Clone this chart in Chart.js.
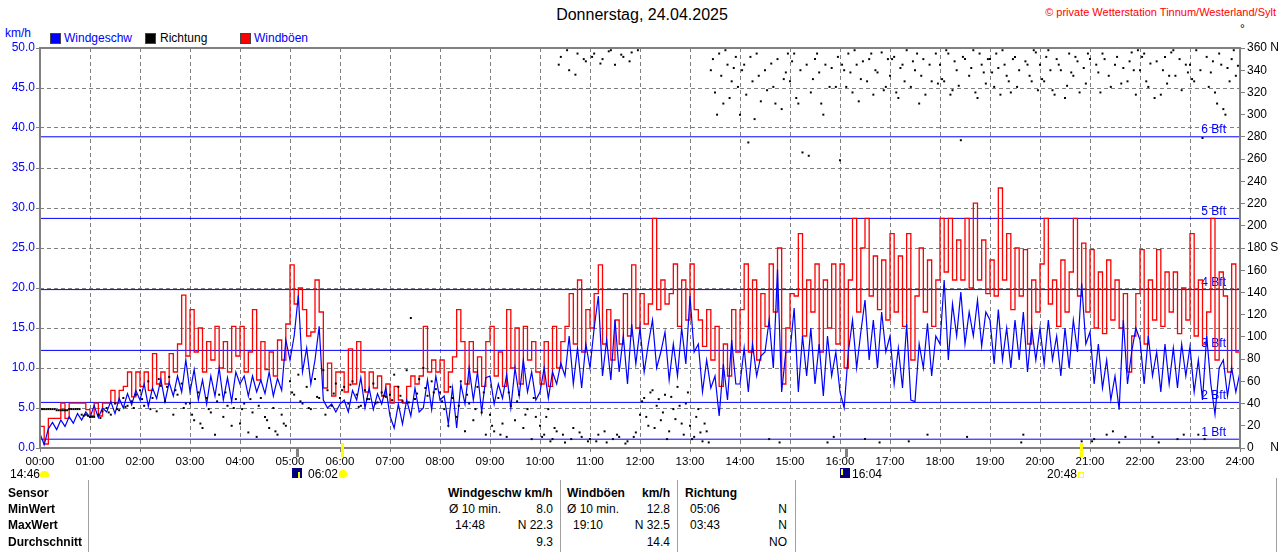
<!DOCTYPE html>
<html lang="de">
<head>
<meta charset="utf-8">
<title>Wind 24.04.2025</title>
<script src="https://cdn.jsdelivr.net/npm/chart.js@4.4.1/dist/chart.umd.min.js"></script>
<style>
  body { margin: 0; background: #fff; font-family: "Liberation Sans", Arial, sans-serif; }
  #page { position: relative; width: 1280px; height: 552px; overflow: hidden; }
  .abs { position: absolute; white-space: nowrap; font-size: 12px; line-height: 14px; }
  .blue { color: #0000ff; }
  .b { font-weight: bold; }
  .sq { position: absolute; width: 9px; height: 9px; border: 1px solid #444; }
  .vl { position: absolute; width: 1px; background: #a0a0a0; }
  #chartBox { position: absolute; left: 0; top: 0; }
</style>
</head>
<body>
<div id="page">
  <div class="abs" style="left:542px;top:6px;width:200px;text-align:center;font-size:16px;line-height:18px">Donnerstag, 24.04.2025</div>
  <div class="abs" style="right:4px;top:5px;color:#ff0000;font-size:11px">© private Wetterstation Tinnum/Westerland/Sylt</div>
  <div class="abs" style="left:1240px;top:22px">°</div>
  <div class="abs blue" style="left:5px;top:26px">km/h</div>

  <div class="sq" style="left:50px;top:33px;background:#0000ff"></div>
  <div class="abs blue" style="left:64px;top:31px">Windgeschw</div>
  <div class="sq" style="left:145px;top:33px;background:#000"></div>
  <div class="abs" style="left:160px;top:31px">Richtung</div>
  <div class="sq" style="left:240px;top:33px;background:#ff0000"></div>
  <div class="abs blue" style="left:254px;top:31px">Windböen</div>

  <div id="chartBox"><canvas id="windChart" width="1280" height="480"></canvas></div>

  <!-- Sonne / Mond unter der Zeitachse -->
  <div class="abs" style="left:10px;top:467px">14:46</div>
  <div class="abs" style="left:40px;top:471px;width:9px;height:6px;background:#ffff00;border-radius:4px 4px 1px 1px"></div>
  <div class="abs" style="left:296px;top:447px;width:3px;height:10px;background:#808080"></div>
  <div class="abs" style="left:292px;top:468px;width:10px;height:10px;background:#000080"></div>
  <div class="abs" style="left:298px;top:472px;width:2px;height:6px;background:#ffff00"></div>
  <div class="abs" style="left:308px;top:467px">06:02</div>
  <div class="abs" style="left:341px;top:443px;width:3px;height:14px;background:#ffff00"></div>
  <div class="abs" style="left:339px;top:470px;width:8px;height:8px;background:#ffff00;border-radius:50%;box-shadow:0 0 2px #ffff80"></div>
  <div class="abs" style="left:845px;top:447px;width:3px;height:10px;background:#808080"></div>
  <div class="abs" style="left:840px;top:468px;width:10px;height:10px;background:#000080"></div>
  <div class="abs" style="left:841px;top:469px;width:2px;height:6px;background:#ffff00"></div>
  <div class="abs" style="left:852px;top:467px">16:04</div>
  <div class="abs" style="left:1080px;top:443px;width:3px;height:14px;background:#ffff00"></div>
  <div class="abs" style="left:1047px;top:467px">20:48</div>
  <div class="abs" style="left:1078px;top:472px;width:4px;height:4px;border:1px solid #ffff00"></div>

  <!-- Tabelle -->
  <div class="vl" style="left:88px;top:480px;height:72px"></div>
  <div class="vl" style="left:560px;top:480px;height:72px"></div>
  <div class="vl" style="left:677px;top:480px;height:72px"></div>
  <div class="vl" style="left:795px;top:480px;height:72px"></div>
  <div class="vl" style="left:1276px;top:478px;height:74px"></div>

  <div class="abs b" style="left:8px;top:486px">Sensor</div>
  <div class="abs b" style="left:8px;top:502px">MinWert</div>
  <div class="abs b" style="left:8px;top:518px">MaxWert</div>
  <div class="abs b" style="left:8px;top:535px">Durchschnitt</div>

  <div class="abs b" style="left:448px;top:486px">Windgeschw km/h</div>
  <div class="abs" style="left:449px;top:502px">Ø 10 min.</div>
  <div class="abs" style="right:727px;top:502px">8.0</div>
  <div class="abs" style="left:455px;top:518px">14:48</div>
  <div class="abs" style="right:727px;top:518px">N 22.3</div>
  <div class="abs" style="right:727px;top:535px">9.3</div>

  <div class="abs b" style="left:567px;top:486px">Windböen</div>
  <div class="abs b" style="right:610px;top:486px">km/h</div>
  <div class="abs" style="left:567px;top:502px">Ø 10 min.</div>
  <div class="abs" style="right:610px;top:502px">12.8</div>
  <div class="abs" style="left:573px;top:518px">19:10</div>
  <div class="abs" style="right:610px;top:518px">N 32.5</div>
  <div class="abs" style="right:610px;top:535px">14.4</div>

  <div class="abs b" style="left:685px;top:486px">Richtung</div>
  <div class="abs" style="left:690px;top:502px">05:06</div>
  <div class="abs" style="right:493px;top:502px">N</div>
  <div class="abs" style="left:690px;top:518px">03:43</div>
  <div class="abs" style="right:493px;top:518px">N</div>
  <div class="abs" style="right:493px;top:535px">NO</div>
</div>

<script>
// 5-Minuten-Werte (00:00 bis 24:00)
const slotMinutes = 5;

// Windgeschwindigkeit km/h
const windSpeed = [
  1.8, 0.4, 2.4, 3.2, 2.3, 3.5, 2.7, 3.9, 3.1, 4.3, 3.5, 4.5,        // 00
  3.8, 5.3, 3.8, 5.0, 4.5, 5.8, 4.3, 6.2, 5.0, 6.8, 5.4, 7.2,        // 01
  6.0, 8.0, 5.2, 7.5, 6.2, 8.6, 5.8, 8.2, 6.5, 9.0, 7.0, 11.0,       // 02
  7.0, 9.8, 6.0, 8.5, 5.5, 9.0, 6.5, 10.0, 6.0, 8.8, 5.8, 9.5,       // 03
  8.0, 9.0, 6.5, 9.0, 7.0, 8.5, 6.8, 9.5, 6.5, 8.7, 7.2, 13.5,       // 04
  11.0, 14.0, 19.1, 9.5, 12.5, 8.0, 11.0, 15.2, 6.0, 5.0, 5.5, 4.5,  // 05
  5.5, 6.0, 4.5, 7.2, 6.0, 8.8, 5.0, 7.5, 4.8, 6.8, 5.5, 7.5,        // 06
  4.0, 2.5, 5.5, 3.0, 6.0, 4.0, 7.5, 4.5, 5.0, 8.5, 4.8, 9.0,        // 07
  6.0, 6.5, 3.0, 7.5, 2.5, 8.0, 5.5, 10.0, 6.0, 9.5, 4.5, 8.8,       // 08
  9.0, 5.5, 8.0, 6.2, 9.2, 5.0, 10.0, 6.5, 11.0, 7.0, 9.5, 6.0,      // 09
  7.0, 10.0, 6.2, 9.5, 8.0, 10.6, 9.0, 14.0, 8.0, 12.5, 7.5, 13.0,   // 10
  10.0, 15.0, 19.0, 9.0, 13.5, 8.5, 16.0, 9.5, 14.0, 8.0, 15.5, 10.5, // 11
  15.0, 9.5, 13.0, 16.0, 10.0, 12.0, 14.5, 8.5, 13.0, 9.0, 15.0, 10.5, // 12
  19.0, 12.0, 13.0, 7.0, 11.0, 7.5, 9.0, 4.0, 10.5, 6.0, 13.5, 8.0,  // 13
  8.0, 12.5, 7.0, 13.0, 9.0, 11.5, 12.0, 16.0, 10.0, 22.3, 7.0, 12.0, // 14
  12.0, 17.5, 7.0, 14.0, 9.0, 15.0, 8.0, 13.0, 6.5, 14.0, 9.0, 12.0, // 15
  7.0, 5.0, 12.0, 16.0, 10.0, 14.5, 18.5, 11.0, 16.0, 10.0, 17.0, 12.0, // 16
  14.0, 8.0, 12.5, 7.5, 15.5, 6.0, 5.8, 13.0, 10.0, 15.6, 9.0, 14.0, // 17
  13.0, 21.0, 11.0, 18.0, 14.0, 19.5, 13.0, 17.0, 14.0, 18.5, 12.7, 17.0, // 18
  16.0, 10.5, 17.3, 11.0, 15.0, 10.0, 16.0, 11.0, 17.0, 9.5, 15.0, 11.0, // 19
  15.0, 10.5, 16.0, 11.0, 14.0, 9.0, 15.0, 10.0, 16.0, 12.0, 20.6, 13.0, // 20
  14.5, 8.0, 13.0, 7.5, 11.0, 6.0, 9.0, 4.8, 16.0, 8.0, 12.0, 15.0,  // 21
  13.5, 8.0, 14.0, 9.0, 12.0, 7.0, 13.0, 8.0, 12.5, 7.5, 13.0, 9.0,  // 22
  12.7, 7.0, 11.0, 6.0, 14.0, 8.0, 4.2, 10.0, 11.0, 6.5, 10.0, 7.0,  // 23
  9.5                                                                 // 24:00
];

// Windböen km/h
const windGust = [
  2.7, 0.5, 3.7, 3.7, 3.7, 5.6, 3.7, 5.6, 5.6, 5.6, 5.6, 4.8,        // 00
  4.0, 5.6, 4.0, 5.6, 5.6, 7.2, 5.6, 7.2, 7.7, 9.5, 6.4, 9.5,        // 01
  7.7, 9.5, 7.2, 11.8, 8.0, 9.5, 8.0, 11.8, 9.5, 13.0, 19.1, 11.5,   // 02
  17.3, 12.0, 15.0, 9.5, 13.3, 11.0, 15.2, 10.0, 13.3, 9.5, 15.2, 11.5, // 03
  15.2, 9.5, 12.0, 17.3, 8.5, 13.3, 9.8, 12.0, 9.0, 13.5, 11.0, 15.5, // 04
  22.9, 18.0, 20.0, 17.3, 14.0, 14.5, 21.0, 17.0, 7.5, 10.6, 6.5, 9.5, // 05
  9.5, 7.0, 12.4, 8.0, 13.3, 9.5, 7.0, 9.5, 7.5, 9.0, 6.5, 8.0,      // 06
  5.6, 7.7, 6.0, 5.6, 7.7, 9.0, 8.0, 9.0, 15.2, 9.5, 11.0, 9.5,      // 07
  11.0, 7.0, 9.5, 11.4, 17.3, 13.3, 8.0, 13.3, 9.5, 11.4, 7.7, 13.3, // 08
  15.2, 9.0, 12.0, 7.7, 17.3, 10.0, 15.0, 8.0, 15.2, 11.0, 13.3, 9.5, // 09
  8.0, 13.3, 7.7, 15.2, 10.0, 13.3, 15.2, 19.3, 13.0, 21.0, 12.0, 17.3, // 10
  15.0, 19.3, 22.9, 13.0, 17.3, 11.0, 16.0, 13.0, 19.3, 14.0, 22.9, 15.0, // 11
  19.3, 15.5, 18.0, 28.7, 17.3, 21.0, 18.0, 19.3, 23.0, 15.2, 21.0, 16.0, // 12
  23.0, 17.3, 16.0, 12.7, 17.3, 11.0, 15.2, 7.7, 13.0, 9.0, 17.3, 12.0, // 13
  17.3, 23.0, 12.0, 21.0, 11.0, 19.3, 15.2, 23.0, 17.0, 25.0, 8.0, 15.0, // 14
  19.3, 19.0, 26.8, 14.0, 21.0, 17.0, 23.0, 12.0, 21.0, 15.0, 23.0, 13.0, // 15
  23.0, 10.0, 21.0, 28.7, 17.0, 25.0, 28.7, 19.0, 24.0, 17.3, 23.5, 16.0, // 16
  26.8, 17.0, 24.0, 15.2, 26.8, 11.0, 19.0, 25.0, 17.0, 23.5, 15.2, 21.0, // 17
  28.7, 22.0, 28.7, 21.0, 26.0, 21.0, 28.7, 20.0, 30.6, 21.0, 26.0, 19.3, // 18
  23.5, 19.0, 32.5, 21.0, 26.8, 17.3, 25.0, 19.0, 24.8, 13.0, 21.0, 17.0, // 19
  23.0, 28.7, 18.0, 21.0, 15.2, 23.5, 17.0, 22.0, 28.7, 19.0, 25.6, 17.0, // 20
  24.8, 15.0, 22.0, 14.3, 23.5, 16.0, 21.0, 15.0, 19.3, 9.5, 14.0, 19.3, // 21
  24.8, 13.0, 21.0, 16.0, 24.8, 15.2, 22.0, 17.0, 22.0, 14.3, 20.0, 16.0, // 22
  26.8, 14.0, 21.0, 13.0, 17.0, 28.7, 11.0, 22.0, 19.0, 9.5, 23.0, 12.0, // 23
  23.0
];

// Windrichtung in Grad, zwei Messungen je 5 Minuten (:00 und :02.5), null = kein Punkt
const dirA = [
  35, 35, 35, 35, 34, 34, 34, 35, 35, 35, 30, 30,
  28, 28, 30, 33, 36, 30, 40, 34, 45, 38, 42, 48,
  52, 38, 60, 45, 33, 56, 42, 64, 30, 48, 58, 40,
  40, 25, 50, 18, 45, 32, 12, 48, 28, 38, 20, 44,
  22, 40, 14, 32, 10, 45, 28, 18, 36, 12, 30, 20,
  60, 48, 66, 40, 55, 35, 62, 45, 70, 52, 38, 58,
  45, 55, 40, 60, 48, 38, 52, 44, 58, 41, 50, 46,
  48, 66, 55, 42, 70, 117, 44, 62, 72, 47, 60, 53,
  50, 35, 20, 45, 28, 60, 15, 40, 25, 55, 32, 12,
  30, 15, 45, 22, 10, 38, 25, 48, 18, 35, 8, 28,
  20, 12, 35, 8, 15, 352, 5, 340, 18, 355, 10, 348,
  8, 355, 12, 350, 5, 358, 345, 10, 352, 6, 356, 14,
  30, 45, 20, 52, 38, 25, 48, 15, 35, 55, 22, 40,
  20, 10, 35, 6, 15, 340, 320, 355, 310, 345, 330, 352,
  300, 345, 275, 330, 355, 312, 340, 8, 325, 350, 305, 338,
  330, 355, 310, 266, 345, 320, 350, 338, 300, 5, 342, 325,
  259, 340, 355, 320, 345, 332, 8, 350, 318, 338, 356, 325,
  335, 352, 315, 345, 358, 325, 340, 310, 350, 12, 330, 355,
  345, 330, 355, 322, 340, 277, 350, 335, 358, 315, 345, 328,
  350, 325, 342, 358, 335, 320, 352, 340, 12, 345, 330, 356,
  345, 330, 358, 322, 350, 340, 315, 355, 335, 348, 6, 328,
  350, 8, 338, 355, 12, 325, 345, 5, 342, 330, 356, 318,
  340, 355, 325, 10, 348, 318, 352, 335, 358, 8, 322, 345,
  345, 330, 12, 279, 352, 338, 320, 355, 305, 342, 350, 335
];
const dirB = [
  35, 35, 35, 35, 34, 34, 34, 35, 35, 35, 29, 29,
  28, null, 27, null, 32, null, 35, null, 37, null, 36, null,
  44, null, 35, null, 62, null, 55, null, 52, null, 36, null,
  30, null, 22, null, 35, null, 42, null, 50, null, 36, null,
  35, null, 44, null, 38, null, 25, null, 15, null, 22, null,
  50, null, 42, null, 36, null, 46, null, 30, null, 49, null,
  52, null, 57, null, 37, null, 44, null, 40, null, 47, null,
  43, null, 47, null, 41, null, 49, null, 54, null, 50, null,
  42, null, 55, null, 38, null, 48, null, 35, null, 50, null,
  20, null, 12, null, 50, null, 42, null, 30, null, 45, null,
  10, 28, 6, 18, 345, 12, 358, 8, 336, 14, 350, 6,
  352, 6, 346, 15, 357, 8, 12, 354, 4, 348, 10, 358,
  42, 28, 50, 18, 44, 32, 8, 46, 26, 38, 12, 50,
  8, 28, 14, 22, 5, 350, 300, 335, 358, 315, 342, 325,
  340, 318, 352, 296, 335, 360, 322, 346, 310, 5, 332, 355,
  348, 315, 340, 360, 263, 332, 355, 310, 345, 325, 10, 352,
  345, 325, 338, 358, 312, 348, 330, 355, 340, 5, 322, 350,
  350, 320, 342, 330, 6, 348, 355, 335, 318, 345, 360, 328,
  332, 358, 318, 348, 326, 352, 10, 342, 320, 355, 338, 350,
  338, 355, 318, 345, 330, 350, 325, 5, 348, 335, 358, 322,
  332, 352, 340, 318, 345, 360, 326, 338, 352, 320, 342, 355,
  6, 345, 320, 350, 335, 15, 352, 328, 10, 348, 340, 358,
  352, 330, 346, 315, 5, 340, 328, 356, 335, 350, 12, 338,
  332, 358, 340, 8, 325, 348, 310, 345, 300, 330, 358, 344
];

// Beaufort-Grenzen km/h
const bftLevels = [1.1, 5.7, 12.2, 19.8, 28.7, 38.9];
const bftLabels = ['1 Bft', '2 Bft', '3 Bft', '4 Bft', '5 Bft', '6 Bft'];

// Achsenbeschriftungen
const hourLabels = ['00:00', '01:00', '02:00', '03:00', '04:00', '05:00', '06:00', '07:00', '08:00',
  '09:00', '10:00', '11:00', '12:00', '13:00', '14:00', '15:00', '16:00', '17:00', '18:00',
  '19:00', '20:00', '21:00', '22:00', '23:00', '24:00'];
const dirLabels = ['0     N', '20', '40', '60', '80', '100', '120', '140', '160', '180 S',
  '200', '220', '240', '260', '280', '300', '320', '340', '360 N'];

const FONT = '"Liberation Sans", Arial, sans-serif';
const GRID = '#808080';

function toPoints(values, offsetMin) {
    return values
        .map((v, i) => ({ x: (i * slotMinutes + offsetMin) / 60, y: v }))
        .filter(p => p.y !== null);
}

// Beaufort-Beschriftung hinter den Daten
const bftLabelPlugin = {
    id: 'bftLabels',
    beforeDatasetsDraw(chart) {
        const { ctx, chartArea, scales } = chart;
        ctx.save();
        ctx.font = '12px ' + FONT;
        ctx.fillStyle = '#0000ff';
        ctx.textAlign = 'right';
        ctx.textBaseline = 'bottom';
        bftLevels.forEach((lvl, i) => {
            ctx.fillText(bftLabels[i], chartArea.right - 14, scales.y.getPixelForValue(lvl) - 1);
        });
        ctx.restore();
    }
};

// grauer Rahmen um die Zeichenfläche
const framePlugin = {
    id: 'frame',
    afterDraw(chart) {
        const { ctx, chartArea } = chart;
        ctx.save();
        ctx.strokeStyle = GRID;
        ctx.lineWidth = 2;
        ctx.strokeRect(chartArea.left, chartArea.top, chartArea.right - chartArea.left, chartArea.bottom - chartArea.top);
        ctx.restore();
    }
};

const datasets = [
    {
        label: 'Richtung',
        type: 'scatter',
        data: toPoints(dirA, 0).concat(toPoints(dirB, 2.5)),
        yAxisID: 'y2',
        showLine: false,
        pointStyle: 'rect',
        pointRadius: 1.4,
        pointBorderWidth: 0,
        backgroundColor: '#000000',
        order: 0
    },
    {
        label: 'Windgeschw',
        data: toPoints(windSpeed, 0),
        yAxisID: 'y',
        borderColor: '#0000ff',
        borderWidth: 1.2,
        pointRadius: 0,
        order: 1
    },
    {
        label: 'Windböen',
        data: toPoints(windGust, 0),
        yAxisID: 'y',
        borderColor: '#ff0000',
        borderWidth: 1.3,
        pointRadius: 0,
        stepped: true,
        order: 2
    }
];

bftLevels.forEach((lvl, i) => {
    datasets.push({
        label: bftLabels[i],
        data: [{ x: 0, y: lvl }, { x: 24, y: lvl }],
        yAxisID: 'y',
        borderColor: '#0000ff',
        borderWidth: 1,
        pointRadius: 0,
        order: 3
    });
});

new Chart(document.getElementById('windChart'), {
    type: 'line',
    data: { datasets: datasets },
    options: {
        responsive: false,
        animation: false,
        layout: { padding: { top: 48, left: 0, right: 0, bottom: 0 } },
        plugins: { legend: { display: false }, tooltip: { enabled: false } },
        scales: {
            x: {
                type: 'linear',
                min: 0,
                max: 24,
                afterFit: (scale) => { scale.height = 32; },
                ticks: {
                    stepSize: 1,
                    autoSkip: false,
                    maxRotation: 0,
                    padding: 3,
                    color: '#000',
                    font: { family: FONT, size: 11.5 },
                    callback: (v) => hourLabels[v]
                },
                grid: { color: GRID, tickLength: 4, tickBorderDash: [] },
                border: { display: false, dash: [4, 3] }
            },
            y: {
                position: 'left',
                min: 0,
                max: 50,
                afterFit: (scale) => { scale.width = 40; },
                ticks: {
                    stepSize: 5,
                    autoSkip: false,
                    padding: 1,
                    color: '#0000ff',
                    font: { family: FONT, size: 12 },
                    callback: (v) => v.toFixed(1)
                },
                grid: { color: GRID, tickLength: 4, tickBorderDash: [] },
                border: { display: false, dash: [4, 3] }
            },
            y2: {
                position: 'right',
                min: 0,
                max: 360,
                afterFit: (scale) => { scale.width = 40; },
                ticks: {
                    stepSize: 20,
                    autoSkip: false,
                    padding: 2,
                    color: '#000',
                    font: { family: FONT, size: 12 },
                    callback: (v) => dirLabels[v / 20]
                },
                grid: { drawOnChartArea: false, color: GRID, tickLength: 5 },
                border: { display: false }
            }
        }
    },
    plugins: [bftLabelPlugin, framePlugin]
});
</script>
</body>
</html>
